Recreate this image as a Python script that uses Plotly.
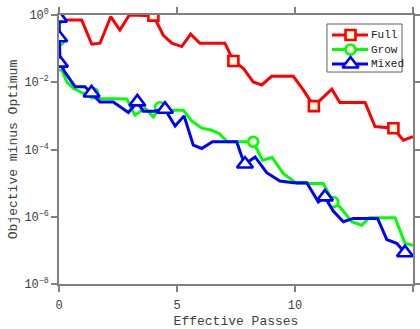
import plotly.graph_objects as go

# ---------------- data ----------------
full_x = [0.0, 0.96, 1.39, 1.74, 2.19, 2.58, 2.98, 4.0, 4.42, 4.78, 5.2, 5.58, 5.97, 7.03,
          7.39, 7.81, 8.23, 8.59, 9.01, 9.93, 10.35, 10.8, 11.56, 11.9, 12.97, 13.39, 14.17,
          14.59, 15.0]
full_y = [0.71, 0.71, 0.135, 0.145, 0.89, 0.355, 1.0, 0.955, 0.25, 0.145, 0.115, 0.27, 0.145,
          0.145, 0.043, 0.026, 0.0102, 0.0083, 0.015, 0.015, 0.0059, 0.00195, 0.0062, 0.0025,
          0.0025, 0.00048, 0.00043, 0.00019, 0.00024]
full_marker_idx = [7, 14, 21, 26]

grow_x = [0.0, 0.01, 0.04, 0.33, 0.61, 1.03, 1.45, 1.74, 2.16, 2.87, 3.22, 3.65, 4.0, 4.28,
          4.7, 5.27, 5.62, 6.05, 6.44, 6.78, 7.14, 8.23, 8.62, 9.03, 9.5, 10.07, 11.2, 11.62,
          11.91, 12.4, 12.83, 13.14, 14.24, 14.66, 15.0]
grow_y = [0.81, 0.18, 0.032, 0.0102, 0.0066, 0.0047, 0.0047, 0.0033, 0.0033, 0.0032, 0.00105,
          0.0017, 0.00093, 0.0018, 0.00148, 0.00148, 0.00071, 0.00043, 0.00038, 0.0003,
          0.00017, 0.00017, 4.8e-5, 5.8e-5, 1.95e-5, 9.8e-6, 9.8e-6, 2.75e-6, 1.95e-6, 7.1e-7,
          5.6e-7, 9.3e-7, 9.3e-7, 1.62e-7, 1.41e-7]
grow_marker_idx = [0, 1, 2, 6, 13, 21, 27]

mixed_x = [0.0, 0.01, 0.04, 0.25, 0.68, 1.1, 1.38, 1.74, 2.3, 2.94, 3.32, 3.57, 4.03, 4.49,
           4.92, 5.3, 5.69, 6.05, 6.5, 7.53, 7.74, 7.88, 8.31, 8.8, 9.36, 9.93, 10.5, 10.99,
           11.27, 11.62, 12.05, 12.47, 13.5, 13.89, 14.31, 14.66]
mixed_y = [0.81, 0.21, 0.037, 0.02, 0.0074, 0.0074, 0.0048, 0.0026, 0.0026, 0.00126, 0.0026,
           0.00138, 0.00138, 0.00158, 0.0005, 0.001, 0.000135, 0.000107, 0.00017, 0.00017,
           6.3e-5, 3.7e-5, 6.0e-5, 2.04e-5, 1.15e-5, 1.02e-5, 1.02e-5, 2.75e-6, 3.9e-6,
           1.48e-6, 7.1e-7, 8.9e-7, 8.9e-7, 2.1e-7, 1.62e-7, 8.5e-8]
mixed_marker_idx = [0, 1, 2, 6, 10, 13, 21, 28, 35]

series_names = ["Full", "Grow", "Mixed"]
x_tick_vals = [0, 5, 10, 15]
y_tick_vals = [1, 1e-2, 1e-4, 1e-6, 1e-8]
y_tick_text = ["10<sup>0</sup>", "10<sup>\u22122</sup>", "10<sup>\u22124</sup>",
               "10<sup>\u22126</sup>", "10<sup>\u22128</sup>"]

# ---------------- styles ----------------
styles = [
    dict(color="#ff0000", symbol="square", size=10, fill="#fffbe0"),
    dict(color="#00ff00", symbol="circle", size=10, fill="#fffbe0"),
    dict(color="#0000ff", symbol="triangle-up", size=14, fill="#ffffff"),
]
data = [(full_x, full_y, full_marker_idx),
        (grow_x, grow_y, grow_marker_idx),
        (mixed_x, mixed_y, mixed_marker_idx)]

FONT = "Liberation Mono"
TXT = "#404040"
AX = "#808080"

fig = go.Figure()
for name, (xs, ys, idx), st in zip(series_names, data, styles):
    fig.add_trace(go.Scatter(x=xs, y=ys, mode="lines", line=dict(color=st["color"], width=3),
                             showlegend=False, name=name, hoverinfo="skip"))
    fig.add_trace(go.Scatter(x=[xs[i] for i in idx], y=[ys[i] for i in idx], mode="markers",
                             marker=dict(symbol=st["symbol"], size=st["size"], color=st["fill"],
                                         line=dict(color=st["color"], width=2.6)),
                             showlegend=False, name=name))

# ---------------- legend box (own small axes, in pixel-like units) ----------------
LEG_W, LEG_H = 75, 48
row_pitch, row0 = 14.5, 11
for k, (name, st) in enumerate(zip(series_names, styles)):
    ry = row0 + k * row_pitch
    fig.add_trace(go.Scatter(x=[5, 41], y=[ry, ry], mode="lines", xaxis="x2", yaxis="y2",
                             line=dict(color=st["color"], width=3), showlegend=False,
                             hoverinfo="skip"))
    fig.add_trace(go.Scatter(x=[23.5], y=[ry], mode="markers", xaxis="x2", yaxis="y2",
                             marker=dict(symbol=st["symbol"], size=st["size"], color=st["fill"],
                                         line=dict(color=st["color"], width=2.6)),
                             showlegend=False, hoverinfo="skip"))
    fig.add_annotation(x=42, y=ry, xref="x2", yref="y2", text=name, showarrow=False,
                       xanchor="left", yanchor="middle",
                       font=dict(family=FONT, size=11, color="#202020"))

fig.add_shape(type="rect", xref="x2 domain", yref="y2 domain", x0=0, x1=1, y0=0, y1=1,
              line=dict(color="#606060", width=1), fillcolor="white", layer="below")

fig.update_layout(
    width=420, height=329,
    margin=dict(l=59, r=7, t=15, b=45),
    paper_bgcolor="white", plot_bgcolor="rgba(0,0,0,0)",
    font=dict(family=FONT, size=12, color=TXT),
    showlegend=False,
    xaxis=dict(range=[0, 15], tickvals=x_tick_vals, ticks="outside", ticklen=6,
               tickcolor=AX, tickwidth=1.5, showline=True, linecolor=AX, linewidth=1.5,
               mirror="ticks", showgrid=False, zeroline=False,
               tickfont=dict(family=FONT, size=12, color=TXT), ticklabelstandoff=3,
               title=dict(text="Effective Passes", font=dict(family=FONT, size=13, color=TXT),
                          standoff=9), automargin=False),
    yaxis=dict(type="log", range=[-8, 0], tickvals=y_tick_vals, ticktext=y_tick_text,
               ticks="outside", ticklen=6, tickcolor=AX, tickwidth=1.5, showline=True,
               linecolor=AX, linewidth=1.5, mirror="ticks", showgrid=False, zeroline=False,
               tickfont=dict(family=FONT, size=12, color=TXT),
               title=dict(text="Objective minus Optimum",
                          font=dict(family=FONT, size=13, color=TXT), standoff=4),
               automargin=False),
    xaxis2=dict(domain=[0.757, 0.969], range=[0, LEG_W], visible=False, anchor="y2",
                fixedrange=True),
    yaxis2=dict(domain=[0.788, 0.9665], range=[LEG_H, 0], visible=False, anchor="x2",
                fixedrange=True),
)

fig.write_html("out.html", config={"displayModeBar": False},
               post_script="document.body.style.margin='0';document.body.style.padding='0';"
                           "document.body.style.overflow='hidden';")
